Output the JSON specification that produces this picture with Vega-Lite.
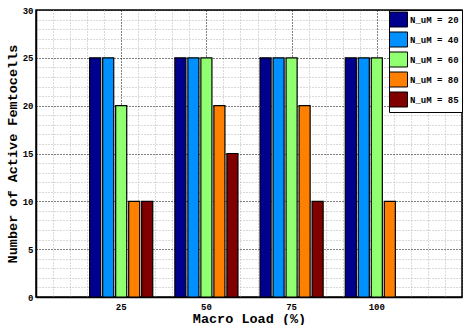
{
  "$schema": "https://vega.github.io/schema/vega-lite/v6.json",
  "width": 426,
  "height": 287,
  "autosize": {"type": "none"},
  "padding": {"left": 36, "top": 10, "right": 2, "bottom": 28},
  "background": "white",
  "data": {
    "values": [
      {"load": 25, "series": "N_uM = 20", "count": 25},
      {"load": 25, "series": "N_uM = 40", "count": 25},
      {"load": 25, "series": "N_uM = 60", "count": 20},
      {"load": 25, "series": "N_uM = 80", "count": 10},
      {"load": 25, "series": "N_uM = 85", "count": 10},
      {"load": 50, "series": "N_uM = 20", "count": 25},
      {"load": 50, "series": "N_uM = 40", "count": 25},
      {"load": 50, "series": "N_uM = 60", "count": 25},
      {"load": 50, "series": "N_uM = 80", "count": 20},
      {"load": 50, "series": "N_uM = 85", "count": 15},
      {"load": 75, "series": "N_uM = 20", "count": 25},
      {"load": 75, "series": "N_uM = 40", "count": 25},
      {"load": 75, "series": "N_uM = 60", "count": 25},
      {"load": 75, "series": "N_uM = 80", "count": 20},
      {"load": 75, "series": "N_uM = 85", "count": 10},
      {"load": 100, "series": "N_uM = 20", "count": 25},
      {"load": 100, "series": "N_uM = 40", "count": 25},
      {"load": 100, "series": "N_uM = 60", "count": 25},
      {"load": 100, "series": "N_uM = 80", "count": 10}
    ]
  },
  "encoding": {
    "y": {
      "field": "count",
      "type": "quantitative",
      "stack": null,
      "scale": {"domain": [0, 30], "nice": false},
      "axis": {
        "values": [0,1,2,3,4,5,6,7,8,9,10,11,12,13,14,15,16,17,18,19,20,21,22,23,24,25,26,27,28,29,30],
        "labelExpr": "datum.value % 5 === 0 ? datum.label : ''",
        "title": "Number of Active Femtocells",
        "titleFont": "Liberation Mono",
        "titleFontSize": 13.5,
        "titleFontWeight": "bold",
        "titleColor": "black",
        "titlePadding": 3,
        "labelFont": "Liberation Mono",
        "labelFontSize": 9,
        "labelFontWeight": "bold",
        "labelColor": "black",
        "labelPadding": 3,
        "ticks": false,
        "domainColor": "black",
        "domainWidth": 1.5,
        "gridColor": {"condition": {"test": "datum.value % 5 === 0", "value": "black"}, "value": "#b4b4b4"},
        "gridDash": [1, 2],
        "gridOpacity": 1,
        "gridWidth": 1
      }
    }
  },
  "layer": [
    {
      "mark": {"type": "tick", "opacity": 0},
      "encoding": {
        "x": {
          "field": "load",
          "type": "quantitative",
          "scale": {"domain": [0, 125], "nice": false, "zero": false},
          "axis": {
            "orient": "bottom",
            "values": [0,5,10,15,20,25,30,35,40,45,50,55,60,65,70,75,80,85,90,95,100,105,110,115,120,125],
            "labels": false,
            "title": null,
            "ticks": false,
            "domainColor": "black",
            "domainWidth": 1.5,
            "gridColor": {"condition": {"test": "datum.value % 25 === 0", "value": "black"}, "value": "#b4b4b4"},
            "gridDash": [1, 2],
            "gridOpacity": 1,
            "gridWidth": 1
          }
        }
      }
    },
    {
      "mark": {"type": "bar", "stroke": "black", "strokeWidth": 1.2},
      "encoding": {
        "x": {
          "field": "load",
          "type": "ordinal",
          "scale": {"domain": [25, 50, 75, 100], "paddingInner": 0, "paddingOuter": 0.5},
          "axis": {
            "orient": "bottom",
            "labelAngle": 0,
            "grid": false,
            "domain": false,
            "ticks": false,
            "title": "Macro Load (%)",
            "titleFont": "Liberation Mono",
            "titleFontSize": 13.5,
            "titleFontWeight": "bold",
            "titleColor": "black",
            "titlePadding": 0,
            "labelFont": "Liberation Mono",
            "labelFontSize": 9,
            "labelFontWeight": "bold",
            "labelColor": "black",
            "labelPadding": 5
          }
        },
        "xOffset": {
          "field": "series",
          "type": "nominal",
          "scale": {"paddingInner": 0.15, "paddingOuter": 0.85}
        },
        "color": {
          "field": "series",
          "type": "nominal",
          "scale": {
            "domain": ["N_uM = 20", "N_uM = 40", "N_uM = 60", "N_uM = 80", "N_uM = 85"],
            "range": ["#00008F", "#0090FF", "#90FF70", "#FF7F00", "#800000"]
          },
          "legend": {
            "title": null,
            "orient": "top-right",
            "offset": 0,
            "padding": 3,
            "fillColor": "white",
            "strokeColor": "black",
            "symbolType": "M-1.5,-1.25L1.5,-1.25L1.5,1.25L-1.5,1.25Z",
            "symbolSize": 144,
            "symbolStrokeColor": "black",
            "symbolStrokeWidth": 1,
            "symbolOpacity": 1,
            "rowPadding": 1,
            "labelFont": "Liberation Mono",
            "labelFontSize": 9,
            "labelFontWeight": "bold",
            "labelColor": "black",
            "labelOffset": 5
          }
        }
      }
    }
  ],
  "resolve": {"scale": {"x": "independent"}, "axis": {"x": "independent"}},
  "config": {
    "view": {"stroke": "black", "strokeWidth": 1.5},
    "axis": {"gridCap": "butt"}
  }
}
